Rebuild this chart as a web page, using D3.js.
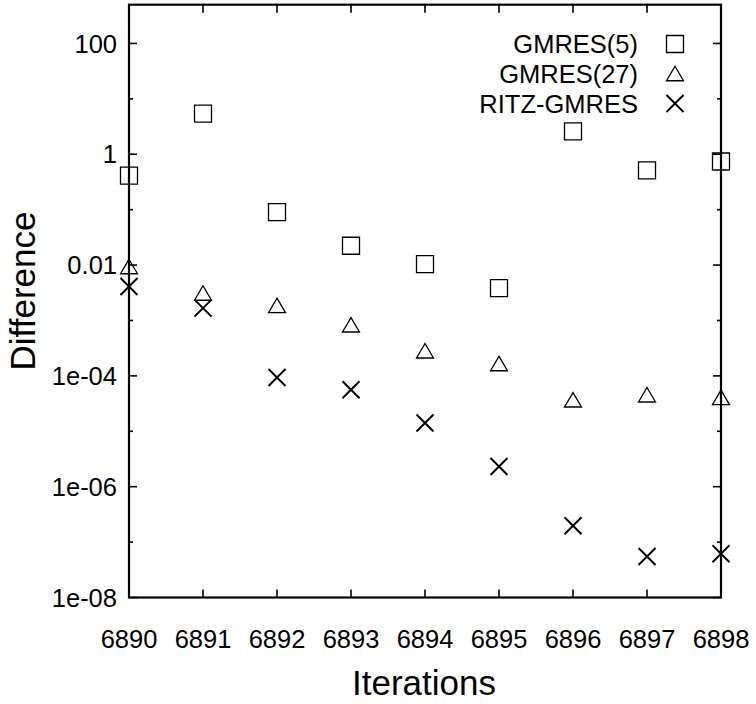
<!DOCTYPE html>
<html><head><meta charset="utf-8">
<script src="https://cdn.jsdelivr.net/npm/d3@7"></script>
<style>body{margin:0;background:#fff;} text{font-family:"Liberation Sans",Arial,Helvetica,sans-serif;}</style>
</head><body>
<script>
const iterations = [6890,6891,6892,6893,6894,6895,6896,6897,6898];
const gmres5  = [0.41, 5.4, 0.09, 0.0223, 0.0104, 0.00385, 2.58, 0.51, 0.74];
const gmres27 = [0.0094, 0.00313, 0.00187, 0.000836, 0.000284, 0.000167, 3.7e-5, 4.56e-5, 4.1e-5];
const ritz    = [0.00411, 0.00167, 9.35e-5, 5.6e-5, 1.41e-5, 2.32e-6, 1.97e-7, 5.5e-8, 6.15e-8];
const seriesNames = ["GMRES(5)", "GMRES(27)", "RITZ-GMRES"];
const yMajorTicks = [1e-8, 1e-6, 1e-4, 1e-2, 1, 100];
const yMajorLabels = ["1e-08", "1e-06", "1e-04", "0.01", "1", "100"];
const yMinorTicks = [1e-7, 1e-5, 1e-3, 0.1, 10];
const xTickLabels = ["6890","6891","6892","6893","6894","6895","6896","6897","6898"];

const W = 756, H = 704;
const L = 129, R = 721, T = 4.7, B = 597.5;
const svg = d3.select("body").append("svg").attr("width", W).attr("height", H);

const x = d3.scaleLinear().domain([6890, 6898]).range([L, R]);
const y = d3.scaleLog().domain([1e-8, 500]).range([B, T]);

// custom symbols
const sq = {draw(c, s){ const h = Math.sqrt(s)/2; c.moveTo(-h,-h); c.lineTo(h,-h); c.lineTo(h,h); c.lineTo(-h,h); c.closePath(); }};
const tri = {draw(c, s){ const w = Math.sqrt(s)/2, hh = w*0.85; c.moveTo(0,-hh); c.lineTo(w,hh); c.lineTo(-w,hh); c.closePath(); }};
const times = {draw(c, s){ const h = Math.sqrt(s)/2; c.moveTo(-h,-h); c.lineTo(h,h); c.moveTo(h,-h); c.lineTo(-h,h); }};
const symSize = 17*17;

// axes (ticks)
const g = svg.append("g");
const tickAttrs = (sel) => sel.attr("stroke","#000").attr("stroke-width",1.6);
yMajorTicks.forEach(v => {
  tickAttrs(g.append("line").attr("x1",L).attr("x2",L+8).attr("y1",y(v)).attr("y2",y(v)));
  tickAttrs(g.append("line").attr("x1",R).attr("x2",R-8).attr("y1",y(v)).attr("y2",y(v)));
});
yMinorTicks.forEach(v => {
  tickAttrs(g.append("line").attr("x1",L).attr("x2",L+4).attr("y1",y(v)).attr("y2",y(v)));
  tickAttrs(g.append("line").attr("x1",R).attr("x2",R-4).attr("y1",y(v)).attr("y2",y(v)));
});
iterations.forEach(v => {
  tickAttrs(g.append("line").attr("x1",x(v)).attr("x2",x(v)).attr("y1",B).attr("y2",B-8));
  tickAttrs(g.append("line").attr("x1",x(v)).attr("x2",x(v)).attr("y1",T).attr("y2",T+8));
});
// frame
g.append("rect").attr("x",L).attr("y",T).attr("width",R-L).attr("height",B-T)
  .attr("fill","none").attr("stroke","#000").attr("stroke-width",2.2);

// tick labels
yMajorTicks.forEach((v,i) => {
  g.append("text").attr("x",117).attr("y",y(v)).attr("dy","0.36em")
    .attr("text-anchor","end").attr("font-size",25.5).text(yMajorLabels[i]);
});
iterations.forEach((v,i) => {
  g.append("text").attr("x",x(v)).attr("y",647.5)
    .attr("text-anchor","middle").attr("font-size",25.5).text(xTickLabels[i]);
});

// axis titles
svg.append("text").attr("x",424).attr("y",695).attr("text-anchor","middle")
  .attr("font-size",35).text("Iterations");
svg.append("text").attr("transform","translate(35,291) rotate(-90)")
  .attr("text-anchor","middle").attr("font-size",35).text("Difference");

// data
const series = [
  {name: seriesNames[0], values: gmres5, type: sq, sw: 1.3},
  {name: seriesNames[1], values: gmres27, type: tri, sw: 1.3},
  {name: seriesNames[2], values: ritz, type: times, sw: 2}
];
const sym = d3.symbol().size(symSize);
series.forEach(s => {
  svg.append("g").selectAll("path").data(iterations).join("path")
    .attr("transform",(d,i) => `translate(${x(d)},${y(s.values[i])})`)
    .attr("d", sym.type(s.type)())
    .attr("fill","none").attr("stroke","#000").attr("stroke-width",s.sw);
});

// legend
const legY = [44, 73.5, 103.5];
series.forEach((s,i) => {
  svg.append("text").attr("x",638).attr("y",legY[i]).attr("dy","0.36em")
    .attr("text-anchor","end").attr("font-size",25.5).text(s.name);
  svg.append("path").attr("transform",`translate(675,${legY[i]})`)
    .attr("d", sym.type(s.type)())
    .attr("fill","none").attr("stroke","#000").attr("stroke-width",s.sw);
});
</script>
</body></html>
